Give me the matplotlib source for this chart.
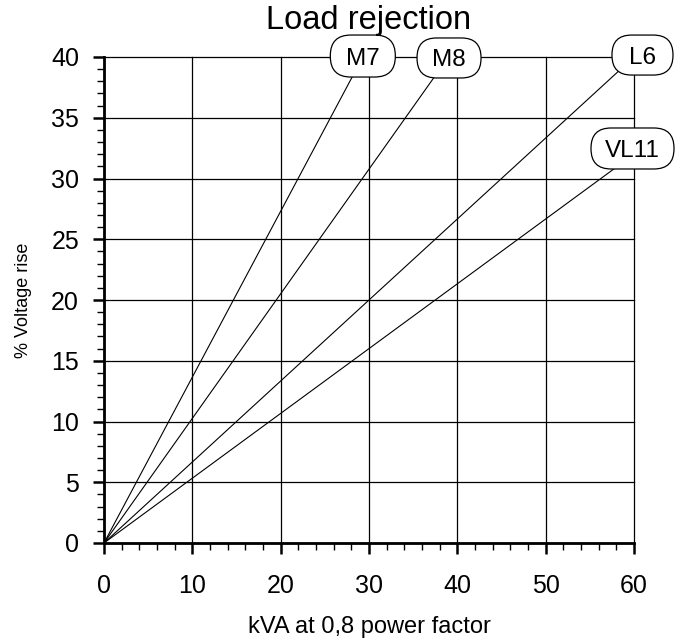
import matplotlib
matplotlib.use("Agg")
import matplotlib.pyplot as plt
from matplotlib.ticker import MultipleLocator
from matplotlib.patches import FancyBboxPatch
from matplotlib.transforms import ScaledTranslation

# Data
models = ["M7", "M8", "L6", "VL11"]
kva_end = [29.3, 39.0, 60.0, 60.0]
rise_end = [40.0, 40.0, 40.0, 32.0]
label_x = [29.3, 39.06, 60.96, 59.83]
label_y = [40.08, 39.92, 40.16, 32.47]
xticks = [0, 10, 20, 30, 40, 50, 60]
yticks = [0, 5, 10, 15, 20, 25, 30, 35, 40]

plt.rcParams['font.family'] = ['Liberation Sans', 'DejaVu Sans']

fig = plt.figure(figsize=(6.8, 6.44), dpi=100)
ax = fig.add_axes([104/680, 101/644, 530/680, 486/644])

# bubble sizes in pixels (width, height)
box_w = [65, 64, 61, 83]
box_h = [42, 40, 40, 41]

for m, xe, ye, lx, ly, bw, bh in zip(models, kva_end, rise_end, label_x, label_y, box_w, box_h):
    ax.plot([0, xe], [0, ye], color="black", lw=0.8, zorder=3, clip_on=False)
    w_in, h_in = bw / 100.0, bh / 100.0
    tr = fig.dpi_scale_trans + ScaledTranslation(lx, ly, ax.transData)
    patch = FancyBboxPatch((-w_in/2, -h_in/2), w_in, h_in,
                           boxstyle=f"round,pad=0,rounding_size={h_in*0.49}",
                           fc="white", ec="black", lw=0.9, transform=tr,
                           zorder=4, clip_on=False)
    ax.add_artist(patch)
    ax.text(lx, ly, m, ha="center", va="center_baseline", fontsize=17.5, zorder=5, clip_on=False)

ax.set_xlim(0, 60)
ax.set_ylim(0, 40)
ax.set_xticks(xticks)
ax.set_yticks(yticks)
ax.xaxis.set_minor_locator(MultipleLocator(2))
ax.yaxis.set_minor_locator(MultipleLocator(1))

for v in xticks:
    ax.axvline(v, color="black", lw=0.9, zorder=1, clip_on=False)
for v in yticks:
    ax.axhline(v, color="black", lw=0.9, zorder=1, clip_on=False)

ax.spines["top"].set_visible(False)
ax.spines["right"].set_visible(False)
ax.spines["left"].set_linewidth(2)
ax.spines["bottom"].set_linewidth(2)
ax.tick_params(which="major", direction="out", length=8, width=1.8, pad=14)
ax.tick_params(which="minor", direction="out", length=5, width=1.0)
ax.tick_params(axis="y", which="major", pad=10)
for lab in ax.get_xticklabels() + ax.get_yticklabels():
    lab.set_fontsize(18)

ax.set_xlabel("kVA at 0,8 power factor", fontsize=17, labelpad=13)
ax.set_ylabel("% Voltage rise", fontsize=13, labelpad=14)
fig.text(0.5*(104+634)/680, 1 - 20/644, "Load rejection", ha="center", va="center", fontsize=23.5)

fig.savefig("out.png", dpi=100)
